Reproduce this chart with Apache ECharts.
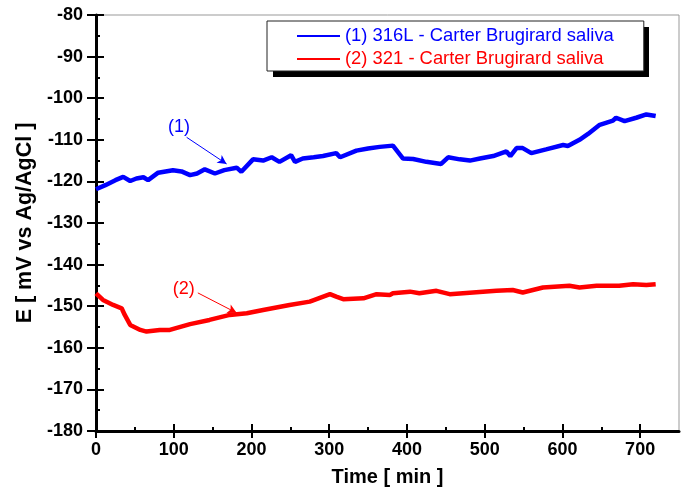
<!DOCTYPE html>
<html>
<head>
<meta charset="utf-8">
<script src="https://cdn.jsdelivr.net/npm/echarts@6/dist/echarts.min.js"></script>
<style>html,body{margin:0;padding:0;background:#fff;}#c{width:688px;height:492px;}</style>
</head>
<body>
<div id="c"></div>
<script>
const seriesNames = ['(1) 316L - Carter Brugirard saliva', '(2) 321 - Carter Brugirard saliva'];
const blueTime = [0,12,25,35,44,52,61,67,80,99,110,121,130,140,153,165,181,187,202,215,226,236,251,256,266,280,292,309,314,335,350,365,382,395,408,425,444,453,468,481,494,511,528,533,541,549,560,579,601,607,622,633,648,665,669,680,695,708,720];
const blueE = [-121.9,-120.9,-119.7,-118.9,-119.9,-119.3,-119.0,-119.7,-117.9,-117.3,-117.6,-118.5,-118.1,-117.1,-118.1,-117.3,-116.7,-117.7,-114.7,-115.0,-114.2,-115.3,-113.7,-115.3,-114.5,-114.2,-113.9,-113.2,-114.2,-112.6,-112.1,-111.7,-111.4,-114.5,-114.6,-115.3,-115.8,-114.2,-114.7,-115.0,-114.5,-113.9,-112.8,-113.9,-112.0,-112.0,-113.2,-112.3,-111.25,-111.5,-110.0,-108.6,-106.4,-105.4,-104.7,-105.5,-104.7,-103.9,-104.3];
const redTime = [0,9,22,33,37,44,57,65,82,95,121,146,172,194,215,249,275,301,309,318,344,361,378,382,404,416,438,455,485,515,536,549,575,609,622,644,673,691,708,720];
const redE = [-146.9,-148.5,-149.7,-150.5,-152.1,-154.5,-155.7,-156.1,-155.7,-155.7,-154.3,-153.3,-152.1,-151.7,-150.9,-149.7,-148.9,-147.1,-147.7,-148.3,-148.1,-147.1,-147.3,-146.9,-146.5,-146.9,-146.3,-147.1,-146.7,-146.3,-146.1,-146.7,-145.5,-145.1,-145.5,-145.1,-145.1,-144.7,-144.9,-144.7];
const xMajorTicks = [0,100,200,300,400,500,600,700];
const xMinorTicks = [50,150,250,350,450,550,650];
const yMajorTicks = [-180,-170,-160,-150,-140,-130,-120,-110,-100,-90,-80];
const yMinorTicks = [-175,-165,-155,-145,-135,-125,-115,-105,-95,-85];
// annotation positions (data coords): label, arrow start, arrow end
const ann1 = {label: [106.7,-106.9], from: [116.6,-109.4], to: [168,-115.8]};
const ann2 = {label: [113,-145.9], from: [131,-146.8], to: [180.8,-151.6]};

const FONT = '"Liberation Sans", Arial, sans-serif';
const zip = (a,b) => a.map((v,i)=>[v,b[i]]);

function axisBase(extra){
  return Object.assign({type:'value', axisLine:{show:false}, axisLabel:{show:false}, splitLine:{show:false}, axisTick:{show:false}}, extra);
}
const xCommon = {min:0, max:750, position:'bottom'};
const yCommon = {min:-180, max:-80, position:'left'};

const xAxes = [
  axisBase(Object.assign({}, xCommon, {
    axisLine:{show:true, onZero:false, lineStyle:{color:'#000', width:3}},
    axisTick:{show:true, inside:false, length:7, lineStyle:{color:'#000', width:2}, customValues:xMajorTicks},
    axisLabel:{show:true, margin:10, color:'#000', fontSize:18, fontWeight:'bold', fontFamily:FONT, customValues:xMajorTicks},
    name:'Time [ min ]', nameLocation:'middle', nameGap:36,
    nameTextStyle:{color:'#000', fontSize:20, fontWeight:'bold', fontFamily:FONT}
  })),
  axisBase(Object.assign({}, xCommon, {axisTick:{show:true, inside:true, length:7, lineStyle:{color:'#000', width:2}, customValues:xMajorTicks}})),
  axisBase(Object.assign({}, xCommon, {axisTick:{show:true, inside:true, length:4, lineStyle:{color:'#000', width:2}, customValues:xMinorTicks}}))
];
const yAxes = [
  axisBase(Object.assign({}, yCommon, {
    axisLine:{show:true, onZero:false, lineStyle:{color:'#000', width:3}},
    axisTick:{show:true, inside:false, length:9, lineStyle:{color:'#000', width:2}, customValues:yMajorTicks},
    axisLabel:{show:true, margin:13, color:'#000', fontSize:18, fontWeight:'bold', fontFamily:FONT, customValues:yMajorTicks},
    name:'E [ mV vs Ag/AgCl ]', nameLocation:'middle', nameGap:58,
    nameTextStyle:{color:'#000', fontSize:21.5, fontWeight:'bold', fontFamily:FONT}
  })),
  axisBase(Object.assign({}, yCommon, {axisTick:{show:true, inside:true, length:8, lineStyle:{color:'#000', width:2}, customValues:yMajorTicks}})),
  axisBase(Object.assign({}, yCommon, {axisTick:{show:true, inside:true, length:4, lineStyle:{color:'#000', width:2}, customValues:yMinorTicks}}))
];

function annotation(a, color, text){
  return {
    markLine:{silent:true, symbol:['none','arrow'], symbolSize:[7,9], animation:false,
      lineStyle:{color:color, width:1, type:'solid'}, label:{show:false},
      data:[[{coord:a.from},{coord:a.to}]]},
    markPoint:{silent:true, animation:false, symbol:'circle', symbolSize:1, itemStyle:{color:'rgba(0,0,0,0)'},
      label:{show:true, position:'inside', formatter:text, color:color, fontSize:18, fontFamily:FONT},
      data:[{coord:a.label}]}
  };
}

const option = {
  animation:false,
  backgroundColor:'#fff',
  grid:{left:96, top:15, right:9, bottom:61, show:true, borderColor:'#999', borderWidth:1},
  graphic:[{type:'rect', z:1, left:273, top:27, shape:{width:376, height:50}, style:{fill:'#000'}}],
  legend:{
    z:10,
    orient:'vertical', left:267, top:21, padding:[6,30,3,30], itemGap:5,
    icon:'rect', itemWidth:43, itemHeight:2,
    backgroundColor:'#fff', borderColor:'#222', borderWidth:1,
    textStyle:{fontSize:18.4, fontFamily:FONT},
    data:[{name:seriesNames[0], textStyle:{color:'#0000ff'}},{name:seriesNames[1], textStyle:{color:'#ff0000'}}]
  },
  xAxis:xAxes,
  yAxis:yAxes,
  series:[
    Object.assign({name:seriesNames[0], type:'line', data:zip(blueTime,blueE), showSymbol:false, symbol:'none',
      color:'#0000ff', lineStyle:{color:'#0000ff', width:4.5}}, annotation(ann1,'#0000ff','(1)')),
    Object.assign({name:seriesNames[1], type:'line', data:zip(redTime,redE), showSymbol:false, symbol:'none',
      color:'#ff0000', lineStyle:{color:'#ff0000', width:4.5}}, annotation(ann2,'#ff0000','(2)'))
  ]
};
echarts.init(document.getElementById('c')).setOption(option);
</script>
</body>
</html>
